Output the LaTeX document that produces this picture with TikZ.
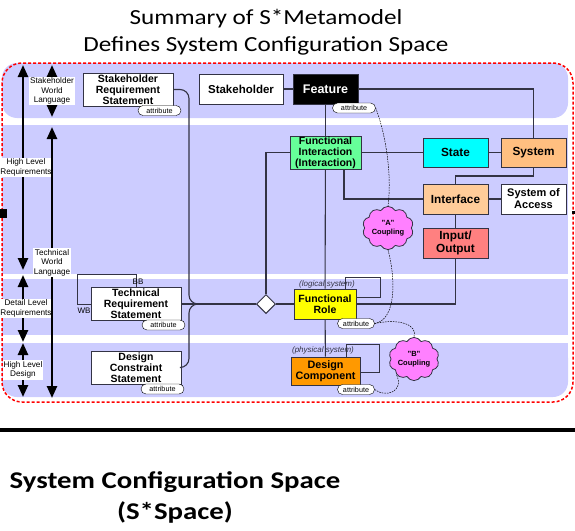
\documentclass[tikz,border=0pt]{standalone}
\usepackage{fontspec}
\setmainfont{Liberation Sans}
\newfontfamily\calibri{Carlito}
\usepackage{tikz}
\usetikzlibrary{arrows.meta,positioning,shapes.geometric,shapes.symbols}
\definecolor{BandBlue}{RGB}{204,204,255}
\definecolor{FIGreen}{RGB}{102,255,153}
\definecolor{StateCyan}{RGB}{0,255,255}
\definecolor{SysOrange}{RGB}{255,191,128}
\definecolor{IfPeach}{RGB}{255,204,153}
\definecolor{IOSalmon}{RGB}{255,128,128}
\definecolor{RoleYellow}{RGB}{255,255,0}
\definecolor{CompOrange}{RGB}{255,153,0}
\definecolor{CloudPink}{RGB}{255,128,255}
\definecolor{EdgeGray}{RGB}{51,51,68}
\newcommand{\fs}[2]{\fontsize{#1}{#2}\selectfont}

\begin{document}
\begin{tikzpicture}[x=1pt,y=-1pt,
  box/.style={draw=EdgeGray,line width=1pt,align=center,inner sep=0pt,font=\bfseries\fs{10.5}{11}},
  pill/.style={draw=black,fill=white,rounded corners=5pt,minimum width=43pt,minimum height=10pt,inner sep=0pt,font=\fs{7.2}{8}},
  conn/.style={draw=EdgeGray,line width=1.1pt},
  dashline/.style={black,line width=0.5pt,dash pattern=on 1.6pt off 1pt},
  lvl/.style={line width=2.4pt,{Triangle[width=10pt,length=12pt]}-{Triangle[width=10pt,length=12pt]}},
  lvltxt/.style={fill=white,align=center,inner sep=1pt,font=\fs{8.2}{9.5}},
  coupling/.style={cloud,cloud puffs=10,cloud puff arc=120,aspect=1.25,draw=EdgeGray,line width=0.8pt,fill=CloudPink,inner sep=0pt,align=center,font=\bfseries\fs{7.5}{9}},
  tag/.style={font=\itshape\fs{8}{9},text=EdgeGray,inner sep=0pt}]
  \useasboundingbox (0,0) rectangle (575,530);
  % title
  \node[font=\calibri\fs{21.5}{27},align=center,xscale=1.17] (title) at (266,32) {Summary of S*Metamodel\\Defines System Configuration Space};
  % lavender bands
  \fill[BandBlue,rounded corners=15pt] (2,63) rectangle (568,118);
  \fill[BandBlue] (2,125) rectangle (568,274);
  \fill[BandBlue] (2,279) rectangle (568,335);
  \fill[BandBlue,rounded corners=15pt] (2,343) rectangle (568,397);
  \fill[BandBlue] (2,343) rectangle (568,360);
  \draw[red,line width=1.5pt,dash pattern=on 3pt off 2pt,rounded corners=20pt] (2,63) rectangle (573,402);
  \fill (0,209) rectangle (7,218);
  \fill (572,211) rectangle (575,214);
  % level arrows on the left
  \foreach \nm/\x/\dx/\ya/\yb/\txt in {hlr/23/3/65/270/{High Level\\Requirements},
      dlr/23/3/275/342/{Detail Level\\Requirements},
      hld/23/0/343/397/{High Level\\Design},
      swl/52/0/65/117/{Stakeholder\\World\\Language},
      twl/52/0/127/398/{Technical\\World\\Language}}{
    \coordinate (\nm-a) at (\x,\ya);
    \coordinate (\nm-b) at (\x,\yb);
    \draw[lvl] (\nm-a) -- (\nm-b) node[midway,lvltxt,xshift=\dx pt] (\nm-t) {\txt};
  }
  % statements
  \node[box,fill=white,minimum width=90pt,minimum height=33pt] (srs) at (128,89.5) {Stakeholder\\Requirement\\Statement};
  \node[box,fill=white,minimum width=90pt,minimum height=33pt] (trs) at (136,304) {Technical\\Requirement\\Statement};
  \node[box,fill=white,minimum width=90pt,minimum height=33pt] (dcs) at (136,367.5) {Design\\Constraint\\Statement};
  % metamodel classes
  \node[box,fill=white,minimum width=84pt,minimum height=30pt,font=\bfseries\fs{11.5}{12}] (sh) at (241,89) {Stakeholder};
  \node[box,fill=black,text=white,minimum width=65pt,minimum height=30pt,font=\bfseries\fs{12.5}{13}] (feat) at (325.5,89) {Feature};
  \node[box,fill=FIGreen,minimum width=71pt,minimum height=33pt] (fi) at (325.5,152.5) {Functional\\Interaction\\(Interaction)};
  \node[box,fill=StateCyan,minimum width=65pt,minimum height=29pt,font=\bfseries\fs{11.8}{12}] (state) at (455.5,152.5) {State};
  \node[box,fill=SysOrange,minimum width=65pt,minimum height=29pt,font=\bfseries\fs{11.8}{12}] (sys) at (533.5,152.5) {System};
  \node[box,fill=IfPeach,minimum width=65pt,minimum height=30pt,font=\bfseries\fs{11.8}{12}] (intf) at (455.5,199) {Interface};
  \node[box,fill=white,minimum width=65pt,minimum height=30pt,font=\bfseries\fs{11}{12}] (soa) at (533.5,199) {System of\\Access};
  \node[box,fill=IOSalmon,minimum width=65pt,minimum height=30pt,font=\bfseries\fs{11.8}{13.5}] (io) at (455.5,243) {Input/\\Output};
  \node[box,fill=RoleYellow,minimum width=62pt,minimum height=30pt] (fr) at (325,304) {Functional\\Role};
  \node[box,fill=CompOrange,minimum width=69pt,minimum height=28pt,font=\bfseries\fs{10.8}{11.5}] (dc) at (325.5,371) {Design\\Component};
  \node[diamond,draw=EdgeGray,fill=white,line width=1pt,inner sep=0pt,minimum width=19pt,minimum height=19pt] (dia) at (266,304) {};
  % self loops
  \draw[conn,line width=0.9pt] (345,289) -- (345,277) -- (380,277) -- (380,297) -- (fr.east |- 0,297);
  \draw[conn,line width=0.9pt] (346,357) -- (346,344) -- (379,344) -- (379,372) -- (dc.east |- 0,372);
  \draw[conn,line width=0.9pt] (trs.west) -- (77,304) -- (77,274) -- (136,274) -- (136,287.5);
  \node[font=\fs{8}{9},inner sep=0pt] (bb) at (138,282) {BB};
  \node[font=\fs{8}{9},inner sep=0pt] (wb) at (84,311) {WB};
  \node[tag] (logi) at (327,284) {(logical system)};
  \node[tag] (phys) at (323,350) {(physical system)};
  % connectors
  \draw[conn] (sh) -- (feat);
  \draw[conn] (feat.east) -- (533.5,89) -- (sys.north);
  \draw[conn] (feat) -- (fi);
  \draw[conn] (fi) -- (fr);
  \draw[conn] (fr) -- (dc);
  \draw[conn] (fi.west) -- (266,152.5) -- (dia.north);
  \draw[conn] (fi) -- (state);
  \draw[conn] (state) -- (sys);
  \draw[conn] (fi.south -| 344,0) -- (344,199) -- (intf.west);
  \draw[conn] (sys.south) -- (533.5,176) -- (455.5,176) -- (intf.north);
  \draw[conn] (intf) -- (soa);
  \draw[conn] (intf) -- (io);
  \draw[conn] (fr.east) -- (455.5,304) -- (io.south);
  \draw[conn] (dia) -- (fr);
  \draw[conn,rounded corners=9pt] (srs.east) -- (189,89.5) -- (189,304) -- (dia.west);
  \draw[conn,rounded corners=9pt] (dcs.east) -- (189,367.5) -- (189,304) -- (dia.west);
  \draw[conn,line width=1.8pt] (trs.east) -- (dia.west);
  % attribute tags
  \node[pill] (srsattr) at (159.5,110.5) {attribute};
  \node[pill] (fattr) at (354,108) {attribute};
  \node[pill] (trsattr) at (163.5,325) {attribute};
  \node[pill] (dcsattr) at (162.5,389) {attribute};
  \node[pill,minimum width=37pt] (frattr) at (356,323.5) {attribute};
  \node[pill,minimum width=37pt] (dcattr) at (356,389.5) {attribute};
  % couplings
  \node[coupling,minimum width=51pt,minimum height=40pt] (cpA) at (388,228) {"A"\\Coupling};
  \node[coupling,minimum width=46pt,minimum height=38pt] (cpB) at (414,359) {"B"\\Coupling};
  \draw[dashline] (fattr.east) .. controls (386,135) and (392,175) .. (cpA.north);
  \draw[dashline] (cpA.south) .. controls (396,280) and (396,320) .. (frattr.east);
  \draw[dashline] (frattr.east) .. controls (400,318) and (418,325) .. (cpB.north);
  \draw[dashline] (dcattr.east) .. controls (385,398) and (405,392) .. (cpB.south west);
  % bottom caption
  \draw[line width=4pt] (0,430) -- (575,430);
  \node[font=\calibri\bfseries\fs{24}{31},align=center,xscale=1.2] (caption) at (175,497) {System Configuration Space\\(S*Space)};
\end{tikzpicture}
\end{document}
